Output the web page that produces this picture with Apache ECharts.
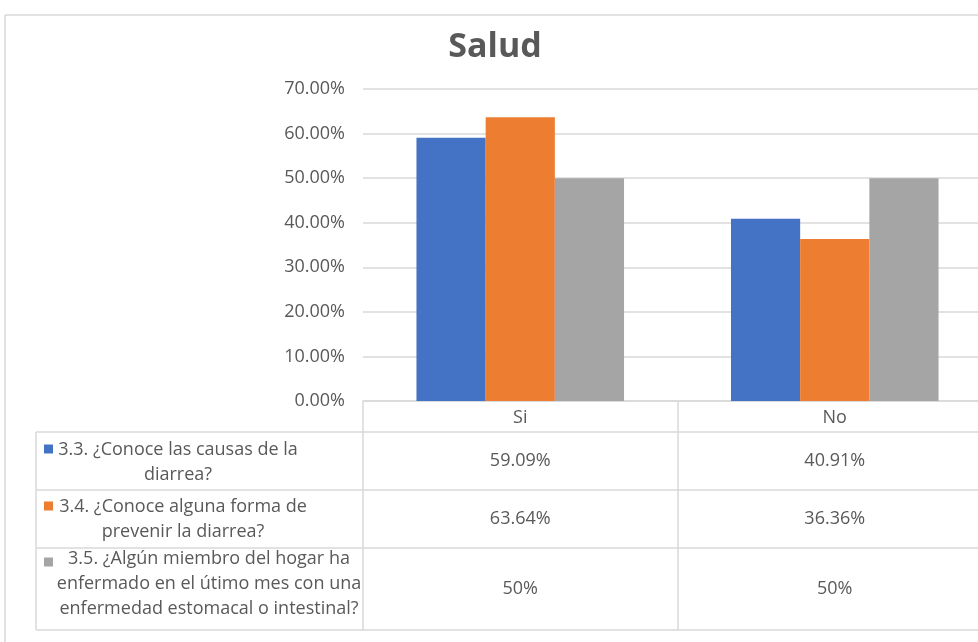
<!DOCTYPE html>
<html><head><meta charset="utf-8">
<script src="https://cdn.jsdelivr.net/npm/echarts@6/dist/echarts.min.js"></script>
<style>html,body{margin:0;padding:0;background:#fff;overflow:hidden;width:978px;height:642px}#c{width:1000px;height:642px}</style>
</head><body><div id="c"></div>
<script>
const categories = ['Si', 'No'];
const seriesNames = [
  '3.3. ¿Conoce las causas de la\ndiarrea?',
  '3.4. ¿Conoce alguna forma de\nprevenir la diarrea?',
  '3.5. ¿Algún miembro del hogar ha\nenfermado en el útimo mes con una\nenfermedad estomacal o intestinal?'
];
const causasDiarrea = [0.5909, 0.4091];
const prevenirDiarrea = [0.6364, 0.3636];
const miembroEnfermo = [0.5, 0.5];
const tableLabels = [
  ['59.09%', '40.91%'],
  ['63.64%', '36.36%'],
  ['50%', '50%']
];
const yTicks = [0, 0.1, 0.2, 0.3, 0.4, 0.5, 0.6, 0.7];

const colors = ['#4472C4', '#ED7D31', '#A5A5A5'];
const FONT = 'Open Sans';
const FS = 18;
const TXT = '#595959';
const LINE = '#D9D9D9';
const values = [causasDiarrea, prevenirDiarrea, miembroEnfermo];

const chart = echarts.init(document.getElementById('c'));
chart.setOption({
  animation: false,
  textStyle: { fontFamily: FONT },
  title: {
    text: 'Salud', left: 490, top: 25, textAlign: 'center',
    textStyle: { fontFamily: FONT, fontWeight: 'bold', fontSize: 34, color: TXT }
  },
  grid: { left: 363, top: 89, height: 312, width: 629, containLabel: false },
  xAxis: {
    type: 'category', data: categories,
    axisLine: { show: true, lineStyle: { color: LINE, width: 1.5 } },
    axisTick: { show: true, length: 229, lineStyle: { color: LINE, width: 1.5 } },
    axisLabel: { color: TXT, fontSize: FS, fontFamily: FONT, margin: 8 }
  },
  yAxis: {
    type: 'value', min: yTicks[0], max: yTicks[yTicks.length - 1], interval: 0.1,
    axisLine: { show: false }, axisTick: { show: false },
    splitLine: { lineStyle: { color: LINE, width: 1.5 } },
    axisLabel: { color: TXT, fontSize: FS, fontFamily: FONT, margin: 18,
      formatter: v => (v * 100).toFixed(2) + '%' }
  },
  series: values.map((d, i) => ({
    type: 'bar', name: seriesNames[i], data: d,
    barGap: 0, barCategoryGap: '34%',
    itemStyle: { color: colors[i] }
  }))
});

// data table below the plot
const rowBounds = [432, 490, 548, 630];
const tableLeft = 36;
const labelCenters = [178, 183, 209];
const labelMid = [462, 519, 584];
const keyY = [449, 506, 562];
const g = [];
g.push({ type: 'line', shape: { x1: 5, y1: 15, x2: 1000, y2: 15 }, style: { stroke: LINE, lineWidth: 1.5 } });
g.push({ type: 'line', shape: { x1: 5, y1: 15, x2: 5, y2: 642 }, style: { stroke: LINE, lineWidth: 1.5 } });
rowBounds.forEach(y => g.push({ type: 'line', shape: { x1: tableLeft, y1: y, x2: 992, y2: y }, style: { stroke: LINE, lineWidth: 1.5 } }));
g.push({ type: 'line', shape: { x1: tableLeft, y1: rowBounds[0], x2: tableLeft, y2: rowBounds[3] }, style: { stroke: LINE, lineWidth: 1.5 } });
seriesNames.forEach((name, i) => {
  g.push({ type: 'rect', shape: { x: 44, y: keyY[i] - 4.5, width: 9, height: 9 }, style: { fill: colors[i] } });
  g.push({ type: 'text', x: labelCenters[i], y: labelMid[i],
    style: { text: name, fill: TXT, font: FS + 'px "' + FONT + '"', align: 'center', verticalAlign: 'middle', lineHeight: 25 } });
  categories.forEach((c, j) => {
    const x = chart.convertToPixel({ xAxisIndex: 0 }, c);
    g.push({ type: 'text', x: x, y: (rowBounds[i] + rowBounds[i + 1]) / 2,
      style: { text: tableLabels[i][j], fill: TXT, font: FS + 'px "' + FONT + '"', align: 'center', verticalAlign: 'middle' } });
  });
});
chart.setOption({ graphic: g });
</script></body></html>
